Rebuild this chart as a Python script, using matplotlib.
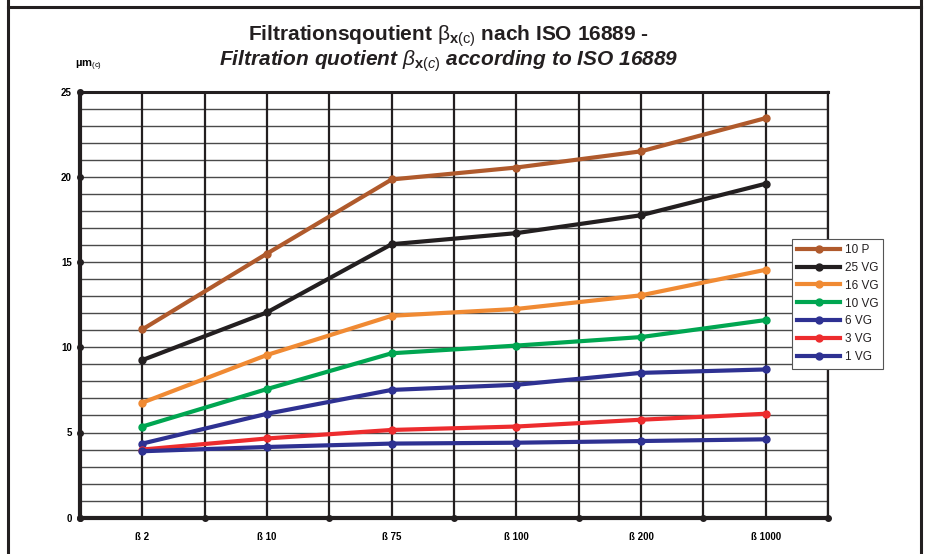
import matplotlib
matplotlib.use("Agg")
import matplotlib.pyplot as plt
from matplotlib.lines import Line2D
import numpy as np

plt.rcParams['font.family'] = ['Liberation Sans', 'DejaVu Sans']
plt.rcParams['mathtext.fontset'] = 'custom'
plt.rcParams['mathtext.rm'] = 'Liberation Sans'
plt.rcParams['mathtext.it'] = 'Liberation Sans:italic'
plt.rcParams['mathtext.bf'] = 'Liberation Sans:bold'

# data
categories = ['ß 2', 'ß 10', 'ß 75', 'ß 100', 'ß 200', 'ß 1000']
series_names = ['10 P', '25 VG', '16 VG', '10 VG', '6 VG', '3 VG', '1 VG']
p10 = [11.05, 15.5, 19.85, 20.55, 21.5, 23.45]
vg25 = [9.25, 12.05, 16.05, 16.7, 17.75, 19.6]
vg16 = [6.75, 9.55, 11.85, 12.25, 13.05, 14.55]
vg10 = [5.35, 7.55, 9.65, 10.1, 10.6, 11.6]
vg6 = [4.35, 6.1, 7.5, 7.8, 8.5, 8.7]
vg3 = [4.0, 4.65, 5.15, 5.35, 5.75, 6.1]
vg1 = [3.9, 4.15, 4.35, 4.4, 4.5, 4.6]
colors = ['#b05a2c', '#231f20', '#f08a33', '#00a651', '#2e3192', '#ed2c2e', '#2e3192']

all_series = [p10, vg25, vg16, vg10, vg6, vg3, vg1]

fig = plt.figure(figsize=(9.29, 5.54), dpi=100)
ax = fig.add_axes([80 / 929, 1 - 517.7 / 554, 748 / 929, 426 / 554])

n = len(categories)
xpos = np.arange(n) + 0.5

# grid
for y in range(0, 26):
    ax.axhline(y, color='#4a4a4a', lw=1.0, zorder=1)
for xv in np.arange(0, n + 0.01, 0.5):
    ax.axvline(xv, color='#231f20', lw=1.6, zorder=1)

for name, vals, c in zip(series_names, all_series, colors):
    ax.plot(xpos, vals, color=c, lw=3.0, marker='o', ms=5, label=name, zorder=3)

ax.set_xlim(0, n)
ax.set_ylim(0, 25)

# ticks: dots at category edges / every 5 units
ax.set_xticks(np.arange(n + 1))
ax.set_xticklabels([])
ax.set_xticks(xpos, minor=True)
ax.set_xticklabels(categories, minor=True, fontsize=7, fontweight='bold')
ax.tick_params(axis='x', which='both', length=0, pad=10)
ax.set_yticks(np.arange(0, 26, 5))
ax.set_yticklabels([str(v) for v in range(0, 26, 5)], fontsize=7, fontweight='bold')
ax.tick_params(axis='y', length=0, pad=6)
ax.plot(np.arange(n + 1), np.zeros(n + 1), 'o', color='#231f20', ms=4, clip_on=False, zorder=5)
ax.plot(np.zeros(6), np.arange(0, 26, 5), 'o', color='#231f20', ms=4, clip_on=False, zorder=5)

for side, w in [('left', 3.0), ('bottom', 3.0), ('top', 2.2), ('right', 1.6)]:
    ax.spines[side].set_linewidth(w)
    ax.spines[side].set_color('#231f20')
    ax.spines[side].set_zorder(4)

leg = fig.legend(loc='upper left', bbox_to_anchor=(792 / 929, 1 - 238.5 / 554), fontsize=8.5,
                 frameon=True, fancybox=False, edgecolor='#555555', framealpha=1,
                 handlelength=3.6, handletextpad=0.4, borderpad=0.45, labelspacing=0.5,
                 borderaxespad=0)
leg.get_frame().set_linewidth(0.8)
for t in leg.get_texts():
    t.set_color('#231f20')

fig.text(0.483, 1 - 41 / 554, r'Filtrationsqoutient $\mathrm{\beta}_{\mathbf{x}(\mathrm{c})}$ nach ISO 16889 -',
         ha='center', va='baseline', fontsize=15, fontweight='bold', color='#231f20')
fig.text(0.483, 1 - 66 / 554, r'Filtration quotient $\mathit{\beta}_{\mathbf{x}(\mathit{c})}$ according to ISO 16889',
         ha='center', va='baseline', fontsize=15, fontweight='bold', fontstyle='italic', color='#231f20')
fig.text(75 / 929, 1 - 66 / 554, r'µm$_{(\mathrm{c})}$', ha='left', va='center', fontsize=8, fontweight='bold')

# outer frame
for xs, ys in [([8, 8], [0, 554]), ([921, 921], [0, 554]), ([8, 921], [547, 547])]:
    fig.add_artist(Line2D([v / 929 for v in xs], [v / 554 for v in ys], color='#231f20', lw=2.2))

fig.savefig('out.png', dpi=100)
